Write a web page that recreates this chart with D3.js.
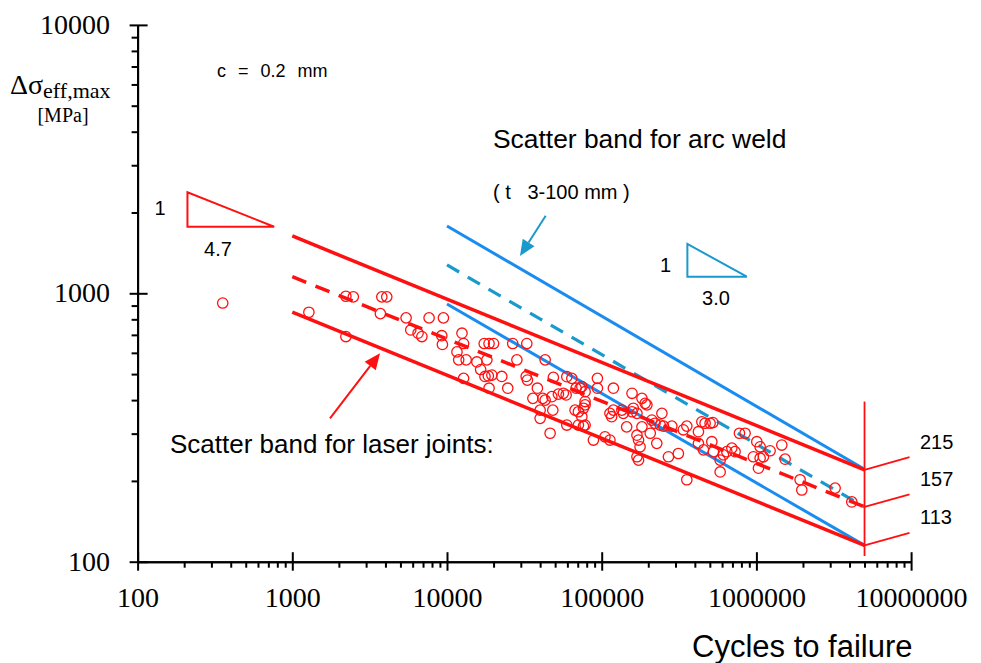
<!DOCTYPE html>
<html><head><meta charset="utf-8">
<script src="https://cdn.jsdelivr.net/npm/d3@7"></script>
<style>
html,body{margin:0;padding:0;background:#fff;}
svg{display:block;}
.serif{font-family:"Liberation Serif","Times New Roman",serif;}
.sans{font-family:"Liberation Sans",Arial,sans-serif;}
</style></head>
<body>
<svg id="chart" width="981" height="663"></svg>
<script>
// ---------- data ----------
const xTickValues = [100, 1000, 10000, 100000, 1000000, 10000000];
const xTickLabels = ["100", "1000", "10000", "100000", "1000000", "10000000"];
const yTickValues = [100, 1000, 10000];
const yTickLabels = ["100", "1000", "10000"];

// scatter band lines: [cycles, stress]
const laserUpper = [[1000, 1635], [5e6, 220]];
const laserMean  = [[1000, 1153], [5e6, 160]];
const laserLower = [[1000, 850],  [5e6, 115]];
const arcUpper   = [[1e4, 1781], [5e6, 221]];
const arcMean    = [[1e4, 1275], [5e6, 160]];
const arcLower   = [[1e4, 912],  [5e6, 115]];

// end values at N = 5e6
const endCycles = 5e6;
const endValues = [220, 160, 115];
const endLabels = ["215", "157", "113"];

// laser joint test results
const cycles = [355,2220,2480,3790,4080,1280,2220,3710,5440,5830,6500,7660,9480,6880,9250,9340,12500,12800,11600,11900,13300,15600,16500,17400,18700,20000,18100,17600,18500,19500,22600,18700,12800,24700,26600,32800,28300,32500,33100,38400,35900,43100,41600,43100,48700,47600,48300,40000,40000,46400,52500,56500,58900,59500,64100,68300,72500,67300,70700,74400,59500,70700,76200,78100,93800,93800,119000,74400,78100,78100,76200,78100,88400,105000,113000,113000,116000,119000,135000,138000,157000,182000,191000,196000,160000,169000,157000,145000,182000,169000,173000,177000,169000,173000,206000,211000,221000,239000,251000,245000,227000,270000,313000,284000,337000,355000,355000,422000,422000,455000,444000,466000,502000,523000,515000,527000,583000,612000,644000,583000,694000,728000,777000,845000,1006000,1057000,956000,1057000,1110000,1226000,1459000,1533000,1031000,1917000,1966000,3227000,4137000];
const stress = [920,975,970,970,970,850,690,840,810,730,710,810,810,690,695,645,710,650,605,565,565,555,520,650,650,650,565,490,492,496,490,443,482,443,650,650,565,490,475,443,406,565,406,400,486,412,367,367,342,301,421,424,418,489,482,443,443,367,362,347,323,323,320,384,482,443,443,449,430,395,373,323,284,292,284,357,347,367,367,357,424,406,389,384,373,357,362,318,318,296,284,268,246,239,301,337,328,323,320,357,276,246,253,320,310,320,202,305,276,261,332,328,328,330,280,257,239,250,257,216,265,257,301,301,280,268,246,243,246,259,272,241,223,202,185,188,167];

// slope triangles [n0, n1, sLow, sHigh]
const redTriangle = [210, 763, 1770, 2378];
const blueTriangle = [358000, 867000, 1153, 1527];

// ---------- setup ----------
const RED = "#ff1010";
const BLUE = "#1a8cf0";
const TEAL = "#1a99cc";
const SERIF = '"Liberation Serif","Times New Roman",serif';

const svg = d3.select("#chart");
const x = d3.scaleLog().domain([100, 1e7]).range([137.6, 911.1]);
const y = d3.scaleLog().domain([100, 10000]).range([561.7, 24.9]);

// ---------- axes ----------
const xMinor = [];
const yMinor = [];
for (let d = 100; d < 1e7; d *= 10) for (let k = 2; k <= 9; k++) xMinor.push(d * k);
for (let d = 100; d < 1e4; d *= 10) for (let k = 2; k <= 9; k++) yMinor.push(d * k);

function styleAxis(g) {
  g.selectAll("path.domain").attr("stroke", "#000").attr("stroke-width", 2).attr("fill", "none");
  g.selectAll("line").attr("stroke", "#000").attr("stroke-width", 2);
}

const gxMinor = svg.append("g").attr("transform", `translate(0,${y(100)})`)
  .call(d3.axisBottom(x).tickValues(xMinor).tickSizeOuter(0).tickSizeInner(6).tickFormat(""));
styleAxis(gxMinor);
const gxMajor = svg.append("g").attr("transform", `translate(0,${y(100)})`)
  .call(d3.axisBottom(x).tickValues(xTickValues).tickSizeOuter(0).tickFormat((d, i) => xTickLabels[i]));
styleAxis(gxMajor);
gxMajor.attr("font-family", SERIF).attr("font-size", 28);
gxMajor.selectAll(".tick line").attr("y1", -9.5).attr("y2", 9);
gxMajor.selectAll(".tick text").attr("y", 45.3).attr("dy", null)
  .style("font-family", SERIF).style("font-size", "28px").attr("fill", "#000");

const gyMinor = svg.append("g").attr("transform", `translate(${x(100)},0)`)
  .call(d3.axisLeft(y).tickValues(yMinor).tickSizeOuter(0).tickSizeInner(6).tickFormat(""));
styleAxis(gyMinor);
const gyMajor = svg.append("g").attr("transform", `translate(${x(100)},0)`)
  .call(d3.axisLeft(y).tickValues(yTickValues).tickSizeOuter(0).tickFormat((d, i) => yTickLabels[i]));
styleAxis(gyMajor);
gyMajor.attr("font-family", SERIF).attr("font-size", 28);
gyMajor.selectAll(".tick line").attr("x1", -8).attr("x2", 10);
gyMajor.selectAll(".tick text").attr("x", -27.5).attr("y", 8.6).attr("dy", null)
  .style("font-family", SERIF).style("font-size", "28px").attr("fill", "#000");

// ---------- band lines ----------
const line = d3.line().x(d => x(d[0])).y(d => y(d[1]));
function band(data, color, width, dash) {
  svg.append("path").datum(data).attr("d", line).attr("fill", "none")
    .attr("stroke", color).attr("stroke-width", width)
    .attr("stroke-dasharray", dash || null);
}
band(arcUpper, BLUE, 3);
band(arcMean, TEAL, 3.2, "14,10");
band(arcLower, BLUE, 3);
band(laserUpper, RED, 3.5);
band(laserMean, RED, 3.5, "15,10");
band(laserLower, RED, 3.5);

// ---------- scatter ----------
svg.append("g").selectAll("circle").data(cycles.map((c, i) => [c, stress[i]]))
  .join("circle")
  .attr("cx", d => x(d[0])).attr("cy", d => y(d[1])).attr("r", 5.2)
  .attr("fill", "none").attr("stroke", RED).attr("stroke-width", 1.3);

// ---------- end annotation ----------
const ex = x(endCycles);
svg.append("line").attr("x1", ex).attr("x2", ex).attr("y1", y(395)).attr("y2", y(105))
  .attr("stroke", RED).attr("stroke-width", 1.8);
endValues.forEach((v, i) => {
  svg.append("line").attr("x1", ex).attr("y1", y(v)).attr("x2", ex + 45).attr("y2", y(v) - 12.6)
    .attr("stroke", RED).attr("stroke-width", 1.8);
  svg.append("text").attr("class", "sans").attr("x", 920).attr("y", y(v) - 21)
    .attr("font-size", 20).attr("fill", "#000").text(endLabels[i]);
});

// ---------- slope triangles ----------
function tri(t, color) {
  const p = [[x(t[0]), y(t[3])], [x(t[0]), y(t[2])], [x(t[1]), y(t[2])]];
  svg.append("path").attr("d", "M" + p.join("L") + "Z").attr("fill", "none")
    .attr("stroke", color).attr("stroke-width", 2);
}
tri(redTriangle, RED);
tri(blueTriangle, TEAL);
svg.append("text").attr("class", "sans").attr("x", 160).attr("y", 215).attr("text-anchor", "middle")
  .attr("font-size", 20).text("1");
svg.append("text").attr("class", "sans").attr("x", 218).attr("y", 256).attr("text-anchor", "middle")
  .attr("font-size", 20).text("4.7");
svg.append("text").attr("class", "sans").attr("x", 665.5).attr("y", 272).attr("text-anchor", "middle")
  .attr("font-size", 20).text("1");
svg.append("text").attr("class", "sans").attr("x", 716).attr("y", 305).attr("text-anchor", "middle")
  .attr("font-size", 20).text("3.0");

// ---------- arrows ----------
function arrow(x1, y1, x2, y2, color) {
  const a = Math.atan2(y2 - y1, x2 - x1), L = 16, W = 7;
  const bx = x2 - L * Math.cos(a), by = y2 - L * Math.sin(a);
  svg.append("line").attr("x1", x1).attr("y1", y1).attr("x2", bx).attr("y2", by)
    .attr("stroke", color).attr("stroke-width", 2);
  const p1 = [bx + W * Math.sin(a), by - W * Math.cos(a)];
  const p2 = [bx - W * Math.sin(a), by + W * Math.cos(a)];
  svg.append("path").attr("d", `M${x2},${y2}L${p1}L${p2}Z`).attr("fill", color);
}
arrow(330, 418.3, 380, 353.3, RED);
arrow(545.7, 215.7, 520, 256, TEAL);

// ---------- texts ----------
const yt = svg.append("text").attr("class", "serif").attr("x", 10).attr("y", 94.3).attr("fill", "#000");
yt.append("tspan").attr("font-size", 28).text("Δσ");
yt.append("tspan").attr("font-size", 22).attr("dy", 4).text("eff,max");
svg.append("text").attr("class", "serif").attr("x", 63).attr("y", 122).attr("text-anchor", "middle")
  .attr("font-size", 20).text("[MPa]");

svg.append("text").attr("class", "sans").attr("x", 217).attr("y", 77).attr("font-size", 18)
  .attr("word-spacing", 7).text("c = 0.2 mm");
svg.append("text").attr("class", "sans").attr("x", 493).attr("y", 148).attr("font-size", 26.4)
  .text("Scatter band for arc weld");
svg.append("text").attr("class", "sans").attr("x", 493).attr("y", 199).attr("font-size", 20)
  .style("white-space", "pre").text("( t   3-100 mm )");
svg.append("text").attr("class", "sans").attr("x", 170).attr("y", 453).attr("font-size", 26)
  .text("Scatter band for laser joints:");
svg.append("text").attr("class", "sans").attr("x", 692).attr("y", 657).attr("font-size", 31)
  .text("Cycles to failure");
</script>
</body></html>
